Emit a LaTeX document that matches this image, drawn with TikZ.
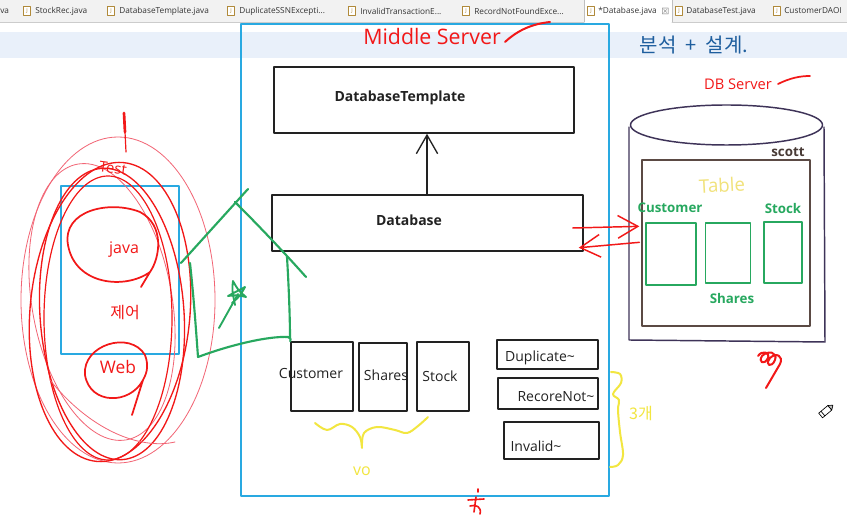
\documentclass[tikz,border=0pt]{standalone}
\usepackage{fontspec}
\setmainfont{Open Sans}
\newfontfamily\kr{Noto Sans CJK KR}
\usetikzlibrary{arrows.meta,calc}
\definecolor{cyanline}{HTML}{29A9E1}
\definecolor{boxline}{HTML}{222222}
\definecolor{cyl}{HTML}{3E3358}
\definecolor{brownl}{HTML}{5B4A44}
\definecolor{grn}{HTML}{27A85F}
\definecolor{redh}{HTML}{F21818}
\definecolor{pinkh}{HTML}{F26474}
\definecolor{yel}{HTML}{F2E640}
\definecolor{yel2}{HTML}{F1E27A}
\definecolor{blueh}{HTML}{1E5E9E}
\definecolor{band}{HTML}{E9F0FA}
\definecolor{tabbg}{HTML}{F2F2F2}
\definecolor{tabtxt}{HTML}{333333}
\definecolor{iconc}{HTML}{B08A3A}
\begin{document}
\begin{tikzpicture}[x=0.75pt,y=-0.75pt,line join=round,line cap=round,
  sz/.style 2 args={minimum width=#1*0.75pt,minimum height=#2*0.75pt},
  box/.style={draw=boxline,line width=1.1pt,inner sep=0pt,fill=none},
  cyanbox/.style={draw=cyanline,line width=1.1pt,inner sep=0pt},
  brownbox/.style={draw=brownl,line width=1.3pt,inner sep=0pt},
  gbox/.style={draw=grn,line width=1pt,inner sep=0pt},
  lbl/.style={font=\fontsize{10.5}{12}\selectfont,text=boxline,inner sep=0pt},
  blbl/.style={font=\fontsize{10.5}{12}\selectfont\bfseries,text=boxline,inner sep=0pt},
  glbl/.style={font=\fontsize{10}{12}\selectfont\bfseries,text=grn,inner sep=0pt},
  tabt/.style={font=\fontsize{6.2}{8}\selectfont,text=tabtxt,anchor=west,inner sep=0pt},
  icon/.style={draw=iconc,line width=0.5pt,fill=white,minimum width=5pt,minimum height=6.5pt,inner sep=0pt,font=\fontsize{4}{4}\selectfont,text=iconc},
  gline/.style={draw=grn,line width=1.6pt},
  rline/.style={draw=redh,line width=1.3pt},
  rthin/.style={draw=pinkh,line width=0.6pt},
  yline/.style={draw=yel,line width=1.5pt},
  redarr/.style={draw=redh,line width=1.1pt,-{Straight Barb[length=15pt,width=17pt,line width=1.1pt]}},
  blackarr/.style={draw=boxline,line width=1pt,-{Straight Barb[length=14pt,width=16pt,line width=1pt]}},
  hand/.style={inner sep=0pt}]
\useasboundingbox (0,0) rectangle (847,523);
\fill[white] (0,0) rectangle (847,523);
% ---------- tab bar ----------
\fill[tabbg] (0,0) rectangle (847,22);
\fill[white] (584,0) rectangle (672,22);
\draw[gray!50,line width=0.5pt] (584,22) -- (584,0) (672,0) -- (672,22);
\draw[gray!40,line width=0.5pt] (0,22) -- (584,22) (672,22) -- (847,22);
\fill[band] (0,32) rectangle (847,58);
\node[tabt] (t0) at (0,11) {va};
\node[icon] (i1) at (27,11) {J};
\node[tabt] (t1) at (35,11) {StockRec.java};
\node[icon] (i2) at (111,11) {J};
\node[tabt] (t2) at (119,11) {DatabaseTemplate.java};
\node[icon] (i3) at (231,11) {J};
\node[tabt] (t3) at (239,11) {DuplicateSSNExcepti...};
\node[icon] (i4) at (352,11) {J};
\node[tabt] (t4) at (360,11) {InvalidTransactionE...};
\node[icon] (i5) at (466,11) {J};
\node[tabt] (t5) at (474,11) {RecordNotFoundExce...};
\node[icon] (i6) at (591,11) {J};
\node[tabt] (t6) at (598,11) {*Database.java};
\node[tabt,font=\fontsize{6}{6}\selectfont\kr,text=gray] (x6) at (661,11) {⊠};
\node[icon] (i7) at (679,11) {J};
\node[tabt] (t7) at (686,11) {DatabaseTest.java};
\node[icon] (i8) at (777,11) {J};
\node[tabt] (t8) at (784,11) {CustomerDAOI};
% ---------- middle server ----------
\node[cyanbox,sz={368}{472}] (mid) at (425,260) {};
\node[box,sz={300}{66}] (dbt) at (424,100) {};
\node[blbl] (dbtt) at (400,98) {DatabaseTemplate};
\node[box,sz={311}{56}] (db) at (427.5,223) {};
\node[blbl] (dbtx) at (409,220) {Database};
\draw[blackarr] (db.north -| 427,0) -- (dbt.south -| 427,0);
% VO boxes
\node[box,sz={62}{69}] (vcust) at (322,376.5) {};
\node[lbl] (vcustt) at (311,374) {Customer};
\node[box,sz={48}{68}] (vshare) at (383,377) {};
\node[lbl] (vsharet) at (386,375) {Shares};
\node[box,sz={52}{69}] (vstock) at (443,376.5) {};
\node[lbl] (vstockt) at (440,376) {Stock};
% exception boxes
\node[box,sz={101}{29}] (dup) at (547.5,354.5) {};
\node[lbl] (dupt) at (540,358) {Duplicate\textasciitilde};
\node[box,sz={100}{31}] (rec) at (548,393.5) {};
\node[lbl] (rect) at (556,397) {RecoreNot\textasciitilde};
\node[box,sz={95}{37}] (inv) at (551.5,440.5) {};
\node[lbl] (invt) at (536,446) {Invalid\textasciitilde};
% ---------- DB server ----------
\draw[cyl,line width=1.1pt] (629,127) -- (629,340) -- (825,342) -- (824,127);
\draw[cyl,line width=1.1pt,fill=white] (726.5,125) ellipse [x radius=96, y radius=20];
\node[brownbox,sz={168}{166}] (scottb) at (726,243) {};
\node[font=\fontsize{10}{12}\selectfont\bfseries,text=brownl!80!black,inner sep=0pt] (scott) at (788,152) {scott};
\node[gbox,sz={50}{62}] (tcust) at (671,254) {};
\node[gbox,sz={45}{60}] (tshare) at (728,253) {};
\node[gbox,sz={38}{61}] (tstock) at (783,252.5) {};
\node[glbl] (tcustt) at (670,208) {Customer};
\node[glbl] (tstockt) at (783,209) {Stock};
\node[glbl] (tsharet) at (732,299) {Shares};
\node[hand,font=\fontsize{14}{14}\selectfont,text=yel2,rotate=3] (tablet) at (722,185) {Table};
% red arrows between Database and Customer table
\draw[redarr] ($(db.east)+(-11,5)$) -- ($(tcust.north west)+(-6,4)$);
\draw[redarr] ($(tcust.north west)+(-6,20)$) -- ($(db.south east)+(-5,-4)$);
% ---------- handwriting ----------
\node[hand,font=\fontsize{16}{16}\selectfont,text=redh] (mst) at (432,37) {Middle Server};
\draw[rline,line width=1.5pt] (505,42) .. controls (518,30) and (532,24) .. (550,22);
\node[hand,font=\fontsize{15}{16}\selectfont\kr,text=blueh] (anal) at (694,45) {분석 \ + \ 설계.};
\node[hand,font=\fontsize{11}{12}\selectfont,text=redh] (dbs) at (738,84) {DB Server};
\draw[rline] (778,84) .. controls (790,78) and (800,76) .. (810,76);
% left client area
\node[cyanbox,sz={118}{168}] (client) at (120,270) {};
\draw[rthin] (118,300) ellipse [x radius=97, y radius=163];
\draw[rthin,rotate around={10:(102,302)}] (102,302) ellipse [x radius=70, y radius=140];
\draw[rline,line width=1pt,rotate around={-5:(110,312)}] (110,312) ellipse [x radius=80, y radius=150];
\draw[rline,line width=1pt,rotate around={4:(112,314)}] (112,314) ellipse [x radius=72, y radius=146];
\draw[rline,line width=0.9pt] (108,318) ellipse [x radius=64, y radius=142];
\draw[rthin] (50,380) .. controls (90,430) and (140,450) .. (175,442);
\draw[rline,line width=2pt] (124,113) -- (125,132);
\draw[rline,line width=0.9pt] (125,132) -- (126,152);
\node[hand,font=\fontsize{11}{12}\selectfont,text=redh,rotate=-8] (testt) at (113,168) {Test};
\draw[rline] (150,272) .. controls (125,290) and (75,285) .. (68,245) .. controls (62,210) and (110,200) .. (140,212) .. controls (165,225) and (160,258) .. (150,272) -- (141,287);
\node[hand,font=\fontsize{12}{12}\selectfont,text=redh] (javat) at (124,250) {java};
\node[hand,font=\fontsize{12}{12}\selectfont\kr,text=redh] (ctrl) at (125,313) {제어};
\draw[rline] (143,380) .. controls (130,405) and (90,405) .. (85,375) .. controls (82,345) and (130,330) .. (145,355) .. controls (150,368) and (145,376) .. (143,380) -- (132,415);
\node[hand,font=\fontsize{13}{13}\selectfont,text=redh] (webt) at (118,367) {Web};
% green house sketch
\draw[gline] (181,263) -- (248,189);
\draw[gline] (235,202) .. controls (255,222) and (282,250) .. (306,277);
\draw[gline] (190,263) .. controls (194,300) and (196,330) .. (198,357);
\draw[gline] (287,257) .. controls (289,290) and (290,320) .. (290,338);
\draw[gline] (198,357) .. controls (230,345) and (268,336) .. (288,337) .. controls (291,339) .. (vcust.north west);
\draw[gline,line width=1.4pt] (235,305) .. controls (232,290) .. (233,281) .. controls (238,290) .. (246,297) .. controls (237,295) .. (228,296) .. controls (236,291) .. (245,287) .. controls (240,296) .. (232,303);
\draw[gline,line width=1.4pt] (219,328) -- (238,294);
% yellow braces
\draw[yline] plot[smooth,tension=0.6] coordinates {(315,423) (327,430) (340,424) (352,427) (360,437) (362,448)};
\draw[yline] plot[smooth,tension=0.6] coordinates {(362,446) (364,433) (377,427) (395,430) (407,433) (418,426) (428,417)};
\node[hand,font=\fontsize{12}{12}\selectfont,text=yel] (vot) at (362,471) {vo};
\draw[yline] plot[smooth,tension=0.6] coordinates {(611,372) (620,374) (621,383) (613,394) (619,400) (618,410) (620,432) (623,455) (618,465) (610,467)};
\node[hand,font=\fontsize{12}{12}\selectfont\kr,text=yel] (cnt) at (641,414) {3개};
% red scribbles
\draw[rline,line width=1.5pt] (758,356) .. controls (762,350) and (770,352) .. (768,358) .. controls (764,366) and (758,362) .. (762,356) .. controls (768,350) and (778,352) .. (775,360) .. controls (772,368) and (764,366) .. (770,358) .. controls (776,352) and (784,356) .. (780,364) -- (766,388);
\draw[rline,line width=1.2pt] (478,489) -- (478,492);
\draw[rline,line width=1.2pt] (468,500) -- (484,499) (476,497) -- (474,512) (470,506) .. controls (476,504) and (482,507) .. (480,514);
% pencil cursor
\begin{scope}[rotate around={40:(826,411)}]
\draw[black,line width=0.5pt,fill=white] (819,408) rectangle (831,414);
\draw[black,line width=0.5pt,fill=gray!50] (831,408) -- (835,411) -- (831,414) -- cycle;
\draw[black,line width=0.5pt] (822,408) -- (822,414);
\end{scope}
\end{tikzpicture}
\end{document}
